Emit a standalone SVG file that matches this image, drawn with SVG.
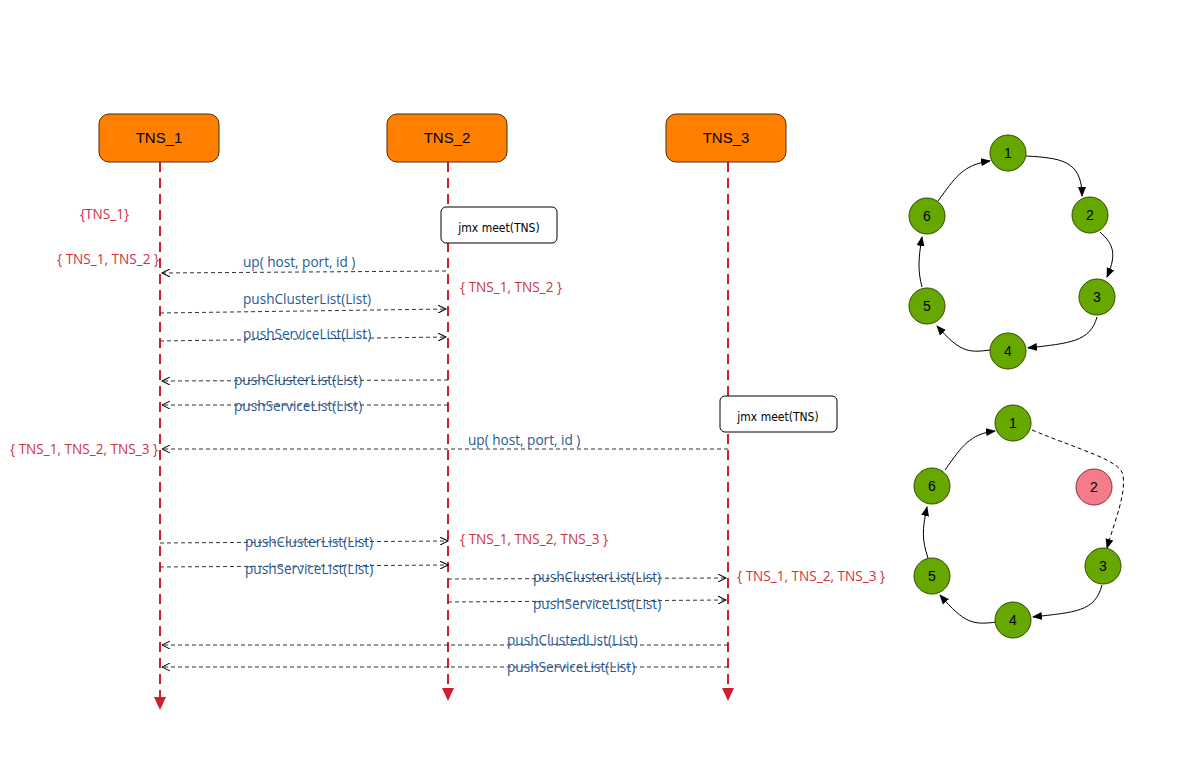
<svg xmlns="http://www.w3.org/2000/svg" width="1197" height="783" viewBox="0 0 1197 783">
<style>
.actor{fill:#FF8000;stroke:#4a2a10;stroke-width:1}
.actor-t{font-family:"Liberation Sans",Arial,sans-serif;font-size:15px;fill:#000;text-anchor:middle}
.life{stroke:#CC2030;stroke-width:2;stroke-dasharray:10,6;fill:none}
.note{fill:#fff;stroke:#000;stroke-width:1}
.note-t{font-family:"DejaVu Sans Condensed","DejaVu Sans",sans-serif;font-size:12px;fill:#000;text-anchor:middle}
.msg{stroke:#333;stroke-width:1;stroke-dasharray:4,3;fill:none;marker-end:url(#open)}
.lbl{font-family:"Open Sans","Liberation Sans",sans-serif;font-size:13.6px;fill:#1F5A96}
.set{font-family:"Open Sans","Liberation Sans",sans-serif;font-size:13.6px;fill:#D03040}
.node{fill:#66A800;stroke:#2D4D00;stroke-width:1}
.node-t{font-family:"Liberation Sans",Arial,sans-serif;font-size:14px;fill:#000;text-anchor:middle}
.edge{stroke:#000;stroke-width:1;fill:none;marker-end:url(#solid)}
</style>
<defs>
<marker id="open" markerWidth="10" markerHeight="8" refX="8" refY="4" orient="auto" markerUnits="userSpaceOnUse">
<path d="M0,0 L8,4 L0,8" fill="none" stroke="#000" stroke-width="1"/>
</marker>
<marker id="solid" markerWidth="10" markerHeight="10" refX="9" refY="5" orient="auto" markerUnits="userSpaceOnUse">
<path d="M0,1 L10,5 L0,9 Z" fill="#000"/>
</marker>
</defs>

<g id="lifelines">
<line class="life" x1="160" y1="162" x2="160" y2="697"/>
<path d="M154,697 L166,697 L160,710 Z" fill="#CC2030"/>
<line class="life" x1="448" y1="162" x2="448" y2="688"/>
<path d="M442,688 L454,688 L448,701 Z" fill="#CC2030"/>
<line class="life" x1="728" y1="162" x2="728" y2="688"/>
<path d="M722,688 L734,688 L728,701 Z" fill="#CC2030"/>
</g>

<g id="TNS_1"><rect class="actor" x="99" y="114" width="120" height="48" rx="10"/><text class="actor-t" x="159" y="143">TNS_1</text></g>
<g id="TNS_2"><rect class="actor" x="387" y="114" width="120" height="48" rx="10"/><text class="actor-t" x="447" y="143">TNS_2</text></g>
<g id="TNS_3"><rect class="actor" x="666" y="114" width="120" height="48" rx="10"/><text class="actor-t" x="726" y="143">TNS_3</text></g>

<g id="jmx1"><rect class="note" x="441" y="207" width="116" height="36" rx="5"/><text class="note-t" x="499" y="232">jmx meet(TNS)</text></g>
<g id="jmx2"><rect class="note" x="720" y="396" width="117" height="36" rx="5"/><text class="note-t" x="778" y="421">jmx meet(TNS)</text></g>

<g id="messages">
<path class="msg" d="M446,271 L162,273"/>
<path class="msg" d="M160,313 L446,309"/>
<path class="msg" d="M160,341 L446,337"/>
<path class="msg" d="M448,380 L162,381"/>
<path class="msg" d="M448,405 L162,405"/>
<path class="msg" d="M728,449 L162,449"/>
<path class="msg" d="M160,543 L448,541"/>
<path class="msg" d="M160,567 L448,565"/>
<path class="msg" d="M448,579 L726,578"/>
<path class="msg" d="M448,602 L726,600"/>
<path class="msg" d="M728,645 L162,645"/>
<path class="msg" d="M728,667 L162,667"/>
</g>

<g id="labels">
<text class="lbl" x="243" y="267">up( host, port, id )</text>
<text class="lbl" x="243" y="304">pushClusterList(List)</text>
<text class="lbl" x="243" y="339">pushServiceList(List)</text>
<text class="lbl" x="234" y="385">pushClusterList(List)</text>
<text class="lbl" x="234" y="411">pushServiceList(List)</text>
<text class="lbl" x="468" y="445">up( host, port, id )</text>
<text class="lbl" x="245" y="547">pushClusterList(List)</text>
<text class="lbl" x="245" y="574">pushServiceList(List)</text>
<text class="lbl" x="533" y="582">pushClusterList(List)</text>
<text class="lbl" x="533" y="609">pushServiceList(List)</text>
<text class="lbl" x="507" y="645">pushClustedList(List)</text>
<text class="lbl" x="507" y="672">pushServiceList(List)</text>
</g>

<g id="sets">
<text class="set" x="80" y="219">{TNS_1}</text>
<text class="set" x="57" y="264">{ TNS_1, TNS_2 }</text>
<text class="set" x="460" y="292">{ TNS_1, TNS_2 }</text>
<text class="set" x="10" y="454">{ TNS_1, TNS_2, TNS_3 }</text>
<text class="set" x="460" y="544">{ TNS_1, TNS_2, TNS_3 }</text>
<text class="set" x="737" y="581">{ TNS_1, TNS_2, TNS_3 }</text>
</g>

<g id="ring1-edges">
<path class="edge" d="M1026,156 C1060,158 1082,160 1082,196"/>
<path class="edge" d="M1100,232 C1112,243 1118,252 1107,277"/>
<path class="edge" d="M1097,317 C1090,342 1070,343 1028,348"/>
<path class="edge" d="M990,350 C968,353 960,352 937,326"/>
<path class="edge" d="M922,287 C918,272 918,260 922,237"/>
<path class="edge" d="M938,201 C955,178 962,165 990,161"/>
</g>
<g id="r1n1"><circle class="node" cx="1008" cy="153" r="18"/><text class="node-t" x="1008" y="158">1</text></g>
<g id="r1n2"><circle class="node" cx="1090" cy="215" r="18"/><text class="node-t" x="1090" y="220">2</text></g>
<g id="r1n3"><circle class="node" cx="1097" cy="297" r="18"/><text class="node-t" x="1097" y="302">3</text></g>
<g id="r1n4"><circle class="node" cx="1008" cy="351" r="18"/><text class="node-t" x="1008" y="356">4</text></g>
<g id="r1n5"><circle class="node" cx="927" cy="306" r="18"/><text class="node-t" x="927" y="311">5</text></g>
<g id="r1n6"><circle class="node" cx="927" cy="216" r="18"/><text class="node-t" x="927" y="221">6</text></g>

<g id="ring2-edges">
<path class="edge" d="M945,470 C962,446 970,434 995,431"/>
<path class="edge" d="M1032,430 C1080,450 1120,460 1123,475 C1126,495 1115,520 1107,548" stroke-dasharray="4,3"/>
<path class="edge" d="M1102,585 C1095,612 1075,612 1033,617"/>
<path class="edge" d="M997,622 C973,625 965,624 940,595"/>
<path class="edge" d="M928,558 C922,540 922,530 927,507"/>
</g>
<g id="r2n1"><circle class="node" cx="1013" cy="423" r="18"/><text class="node-t" x="1013" y="428">1</text></g>
<g id="r2n2"><circle cx="1094" cy="487" r="18" fill="#F47C8A" stroke="#8a3040"/><text class="node-t" x="1094" y="492">2</text></g>
<g id="r2n3"><circle class="node" cx="1103" cy="566" r="18"/><text class="node-t" x="1103" y="571">3</text></g>
<g id="r2n4"><circle class="node" cx="1013" cy="620" r="18"/><text class="node-t" x="1013" y="625">4</text></g>
<g id="r2n5"><circle class="node" cx="932" cy="576" r="18"/><text class="node-t" x="932" y="581">5</text></g>
<g id="r2n6"><circle class="node" cx="932" cy="486" r="18"/><text class="node-t" x="932" y="491">6</text></g>
</svg>
